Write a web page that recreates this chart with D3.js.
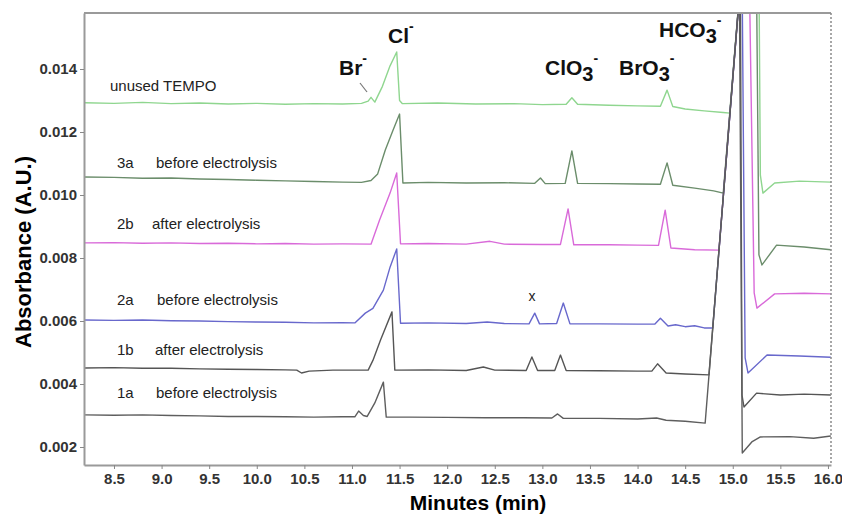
<!DOCTYPE html>
<html>
<head>
  <meta charset="utf-8">
  <script src="https://cdn.jsdelivr.net/npm/d3@7"></script>
  <style>
    body { margin: 0; background: #fff; }
    text { font-family: "Liberation Sans", Arial, sans-serif; }
  </style>
</head>
<body>
<div id="chart"></div>

<script>
// ---- data (time in min, absorbance in A.U.) ----
var xTicks = [8.5, 9.0, 9.5, 10.0, 10.5, 11.0, 11.5, 12.0, 12.5, 13.0, 13.5, 14.0, 14.5, 15.0, 15.5, 16.0];
var yTicks = [0.002, 0.004, 0.006, 0.008, 0.010, 0.012, 0.014];

var unusedTempo = [
  [8.19, 0.01293], [8.5, 0.01291], [8.8, 0.01294], [9.1, 0.01290], [9.4, 0.01292],
  [9.7, 0.01289], [10.0, 0.01291], [10.3, 0.01288], [10.6, 0.01290], [10.9, 0.01289],
  [11.1, 0.01291], [11.17, 0.01298], [11.20, 0.01310], [11.24, 0.01295], [11.32, 0.01345],
  [11.40, 0.01410], [11.47, 0.01454], [11.50, 0.01300], [11.53, 0.01290], [11.9, 0.01292],
  [12.3, 0.01289], [12.7, 0.01290], [13.0, 0.01287], [13.25, 0.01288], [13.31, 0.01309],
  [13.37, 0.01288], [13.7, 0.01285], [14.0, 0.01283], [14.24, 0.01282], [14.31, 0.01333],
  [14.37, 0.01281], [14.5, 0.01273], [14.7, 0.01267], [14.9, 0.01262], [14.97, 0.01260],
  [15.26, 0.02343], [15.29, 0.01063], [15.317, 0.01006], [15.44, 0.01038], [15.7, 0.01044],
  [16.03, 0.01041]
];

var run3a = [
  [8.19, 0.01057], [8.5, 0.01056], [8.8, 0.01053], [9.1, 0.01054], [9.4, 0.01051],
  [9.7, 0.01049], [10.0, 0.01047], [10.3, 0.01045], [10.6, 0.01043], [10.9, 0.01041],
  [11.1, 0.01040], [11.2, 0.01046], [11.27, 0.01067], [11.35, 0.01143], [11.43, 0.01205],
  [11.50, 0.01257], [11.535, 0.01038], [11.8, 0.01040], [12.2, 0.01038], [12.6, 0.01039],
  [12.92, 0.01037], [12.98, 0.01054], [13.03, 0.01036], [13.24, 0.01037], [13.31, 0.01140],
  [13.37, 0.01037], [13.7, 0.01036], [14.0, 0.01035], [14.24, 0.01034], [14.31, 0.01102],
  [14.37, 0.01031], [14.6, 0.01022], [14.8, 0.01013], [14.90, 0.01006], [15.233, 0.02245],
  [15.275, 0.00810], [15.307, 0.00778], [15.46, 0.00841], [15.75, 0.00835], [16.03, 0.00826]
];

var run2b = [
  [8.19, 0.00848], [8.5, 0.00849], [8.8, 0.00847], [9.1, 0.00848], [9.4, 0.00846],
  [9.7, 0.00847], [10.0, 0.00845], [10.3, 0.00846], [10.6, 0.00844], [10.9, 0.00845],
  [11.2, 0.00844], [11.29, 0.00921], [11.40, 0.01006], [11.47, 0.01070], [11.51, 0.00845],
  [11.8, 0.00846], [12.2, 0.00844], [12.45, 0.00853], [12.6, 0.00844], [13.0, 0.00843],
  [13.19, 0.00843], [13.27, 0.00956], [13.33, 0.00842], [13.7, 0.00842], [14.0, 0.00841],
  [14.22, 0.00840], [14.29, 0.00952], [14.35, 0.00832], [14.6, 0.00826], [14.855, 0.00825],
  [15.16, 0.01968], [15.225, 0.00689], [15.254, 0.00641], [15.44, 0.00686], [15.75, 0.00688],
  [16.03, 0.00686]
];

var run2a = [
  [8.19, 0.00603], [8.5, 0.00602], [8.8, 0.00603], [9.1, 0.00601], [9.4, 0.00600],
  [9.7, 0.00598], [10.0, 0.00597], [10.3, 0.00596], [10.6, 0.00594], [10.9, 0.00595],
  [11.03, 0.00594], [11.14, 0.00625], [11.22, 0.00640], [11.33, 0.00698], [11.40, 0.00771],
  [11.47, 0.00829], [11.51, 0.00593], [11.8, 0.00594], [12.2, 0.00592], [12.42, 0.00597],
  [12.6, 0.00592], [12.86, 0.00591], [12.92, 0.00625], [12.97, 0.00591], [13.15, 0.00592],
  [13.22, 0.00657], [13.29, 0.00591], [13.6, 0.00591], [14.0, 0.00590], [14.18, 0.00590],
  [14.24, 0.00609], [14.32, 0.00584], [14.4, 0.00588], [14.5, 0.00582], [14.6, 0.00585],
  [14.7, 0.00578], [14.79, 0.00578], [15.097, 0.01734], [15.13, 0.00483], [15.16, 0.00435],
  [15.36, 0.00492], [15.7, 0.00489], [16.03, 0.00485]
];

var run1b = [
  [8.19, 0.00451], [8.5, 0.00452], [8.8, 0.00450], [9.1, 0.00450], [9.4, 0.00448],
  [9.7, 0.00447], [10.0, 0.00446], [10.3, 0.00445], [10.42, 0.00444], [10.47, 0.00435],
  [10.55, 0.00441], [10.8, 0.00444], [11.17, 0.00444], [11.22, 0.00475], [11.30, 0.00540],
  [11.42, 0.00629], [11.45, 0.00444], [11.8, 0.00445], [12.2, 0.00443], [12.38, 0.00454],
  [12.5, 0.00444], [12.83, 0.00443], [12.89, 0.00486], [12.95, 0.00443], [13.13, 0.00443],
  [13.19, 0.00492], [13.25, 0.00443], [13.6, 0.00442], [14.0, 0.00441], [14.15, 0.00441],
  [14.21, 0.00464], [14.3, 0.00435], [14.5, 0.00432], [14.75, 0.00429], [15.08, 0.01673],
  [15.097, 0.00365], [15.118, 0.00327], [15.25, 0.00371], [15.5, 0.00365], [15.75, 0.00368],
  [16.03, 0.00365]
];

var run1a = [
  [8.19, 0.00302], [8.5, 0.00301], [8.8, 0.00302], [9.1, 0.00300], [9.4, 0.00299],
  [9.7, 0.00297], [10.0, 0.00297], [10.3, 0.00296], [10.6, 0.00295], [10.9, 0.00296],
  [11.03, 0.00296], [11.07, 0.00314], [11.12, 0.00300], [11.16, 0.00297], [11.24, 0.00340],
  [11.33, 0.00406], [11.36, 0.00295], [11.6, 0.00295], [12.0, 0.00294], [12.4, 0.00293],
  [12.8, 0.00293], [13.1, 0.00292], [13.16, 0.00305], [13.22, 0.00291], [13.6, 0.00291],
  [14.0, 0.00289], [14.2, 0.00292], [14.3, 0.00285], [14.5, 0.00282], [14.71, 0.00276],
  [15.07, 0.01635], [15.10, 0.00181], [15.20, 0.00216], [15.29, 0.00232], [15.6, 0.00233],
  [15.85, 0.00228], [16.03, 0.00235]
];

// draw order and colours
var traces = [
  {data: unusedTempo, color: "#8fd68f"},
  {data: run3a, color: "#6b8d6b"},
  {data: run2b, color: "#d96ad9"},
  {data: run2a, color: "#6868cc"},
  {data: run1b, color: "#555555"},
  {data: run1a, color: "#5e5e5e"}
];

// ---- chart ----
var margin = {top: 13, right: 11, bottom: 50, left: 84},
    width = 842 - margin.left - margin.right,
    height = 515 - margin.top - margin.bottom;

var svgRoot = d3.select("#chart")
  .append("svg")
    .attr("width", 842)
    .attr("height", 515);

var svg = svgRoot.append("g")
    .attr("transform", "translate(" + margin.left + "," + margin.top + ")");

var x = d3.scaleLinear()
  .domain([8.185, 16.032])
  .range([0, width]);

var y = d3.scaleLinear()
  .domain([0.001429, 0.015778])
  .range([height, 0]);

svg.append("clipPath")
    .attr("id", "plotclip")
  .append("rect")
    .attr("width", width)
    .attr("height", height);

// traces
var line = d3.line()
  .x(function(d) { return x(d[0]); })
  .y(function(d) { return y(d[1]); });

svg.append("g")
    .attr("clip-path", "url(#plotclip)")
  .selectAll("path")
  .data(traces)
  .enter()
  .append("path")
    .attr("d", function(d) { return line(d.data); })
    .attr("fill", "none")
    .attr("stroke", function(d) { return d.color; })
    .attr("stroke-width", 1.4)
    .attr("stroke-linejoin", "round");

// X axis
var xAxis = svg.append("g")
    .attr("transform", "translate(0," + height + ")")
    .call(d3.axisBottom(x).tickValues(xTicks).tickFormat(d3.format(".1f")).tickSize(4).tickSizeOuter(0));

// Y axis
var yAxis = svg.append("g")
    .call(d3.axisLeft(y).tickValues(yTicks).tickFormat(d3.format(".3f")).tickSize(4).tickSizeOuter(0));

[xAxis, yAxis].forEach(function(a) {
  a.select(".domain").attr("stroke", "#9a9a9a").attr("stroke-width", 2);
  a.selectAll(".tick line").attr("stroke", "#888");
  a.selectAll(".tick text")
    .style("font-family", "'Liberation Sans', Arial, sans-serif")
    .style("font-size", "15px")
    .style("font-weight", "bold")
    .attr("fill", "#333");
});
xAxis.selectAll(".tick text").attr("dy", "0.8em");

// top and right frame
svg.append("line")
    .attr("x1", 0).attr("x2", width)
    .attr("y1", 0).attr("y2", 0)
    .attr("stroke", "#9a9a9a").attr("stroke-width", 2);
svg.append("line")
    .attr("x1", width).attr("x2", width)
    .attr("y1", 0).attr("y2", height)
    .attr("stroke", "#8a8a8a").attr("stroke-width", 1.5)
    .attr("stroke-dasharray", "2,2");

// axis titles
svgRoot.append("text")
    .attr("x", 478)
    .attr("y", 510)
    .attr("text-anchor", "middle")
    .style("font-size", "21px")
    .style("font-weight", "bold")
    .text("Minutes (min)");

svgRoot.append("text")
    .attr("transform", "translate(31,252) rotate(-90)")
    .attr("text-anchor", "middle")
    .style("font-size", "22px")
    .style("font-weight", "bold")
    .text("Absorbance (A.U.)");

// trace labels
var labels = [
  {id: "", text: "unused TEMPO", x: 110, y: 91},
  {id: "3a", text: "before electrolysis", x: 156, y: 168},
  {id: "2b", text: "after electrolysis", x: 152, y: 229},
  {id: "2a", text: "before electrolysis", x: 157, y: 305},
  {id: "1b", text: "after electrolysis", x: 155, y: 355},
  {id: "1a", text: "before electrolysis", x: 156, y: 398}
];
labels.forEach(function(l) {
  if (l.id) {
    svgRoot.append("text")
        .attr("x", 117).attr("y", l.y)
        .style("font-size", "15px")
        .attr("fill", "#222")
        .text(l.id);
  }
  svgRoot.append("text")
      .attr("x", l.x).attr("y", l.y)
      .style("font-size", "15px")
      .attr("fill", "#222")
      .text(l.text);
});

// peak labels  (ion, subscript, charge)
function ion(x0, y0, main, sub) {
  var t = svgRoot.append("text")
      .attr("x", x0).attr("y", y0)
      .style("font-size", "21px")
      .style("font-weight", "bold")
      .attr("fill", "#111");
  t.append("tspan").text(main);
  if (sub) {
    t.append("tspan").attr("dy", 6).style("font-size", "20px").text(sub);
    t.append("tspan").attr("dy", -18).style("font-size", "14px").text("-");
  } else {
    t.append("tspan").attr("dy", -12).style("font-size", "14px").text("-");
  }
}
ion(339, 75, "Br");
ion(388, 43, "Cl");
ion(545, 75, "ClO", "3");
ion(619, 75, "BrO", "3");
ion(659, 37, "HCO", "3");

// Br leader line and unknown peak mark
svgRoot.append("line")
    .attr("x1", 360).attr("y1", 83)
    .attr("x2", 367).attr("y2", 92)
    .attr("stroke", "#777").attr("stroke-width", 1.2);

svgRoot.append("text")
    .attr("x", 532).attr("y", 301)
    .attr("text-anchor", "middle")
    .style("font-size", "14px")
    .attr("fill", "#222")
    .text("x");
</script>
</body>
</html>
